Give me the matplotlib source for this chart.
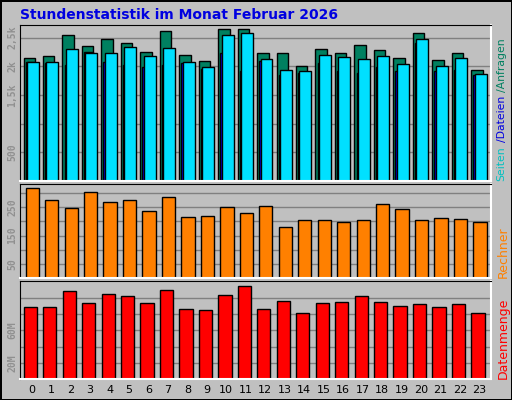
import matplotlib
matplotlib.use("Agg")
import matplotlib.pyplot as plt
import numpy as np

hours = list(range(24))
hits = [2145, 2180, 2552, 2360, 2483, 2413, 2250, 2622, 2203, 2099, 2657, 2657,
        2238, 2238, 2012, 2308, 2238, 2378, 2291, 2151, 2587, 2116, 2238, 1942]
files = [2081, 2081, 2308, 2238, 2238, 2343, 2186, 2326, 2081, 1994, 2552, 2587,
         2134, 1942, 1924, 2203, 2169, 2134, 2186, 2047, 2483, 2012, 2151, 1872]
pages = [2081, 2064, 2029, 2256, 2081, 2029, 1994, 2029, 2064, 1959, 2238, 1924,
         2099, 1855, 1890, 2064, 1924, 1890, 1994, 1924, 2413, 1924, 1942, 1855]
sites = [317, 274, 249, 302, 270, 277, 235, 285, 217, 220, 252, 231,
         256, 181, 206, 206, 199, 206, 263, 245, 206, 213, 210, 199]
volume_mb = [88.5, 88.5, 109, 93.6, 105, 102.6, 93.6, 110, 87, 84.7, 104, 115,
             87, 96, 82, 93.6, 95, 102.6, 95, 90, 92.3, 88.5, 92.3, 81]

BG = "#C0C0C0"
W, H = 512, 400

fig = plt.figure(figsize=(W / 100, H / 100), dpi=100)
fig.patch.set_facecolor(BG)
fig.patch.set_edgecolor("black")
fig.patch.set_linewidth(2)

fig.text(20 / W, 1 - 15 / H, "Stundenstatistik im Monat Februar 2026", color="#0000E0",
         fontsize=10, fontweight="bold", va="center", ha="left")


def make_ax(top, bottom):
    ax = fig.add_axes([20 / W, 1 - bottom / H, (491 - 20) / W, (bottom - top) / H])
    ax.set_facecolor(BG)
    ax.set_xlim(-0.6, 23.6)
    for s in ("left", "top"):
        ax.spines[s].set_color("black")
    for s in ("right", "bottom"):
        ax.spines[s].set_color("white")
        ax.spines[s].set_linewidth(1.5)
    ax.tick_params(axis="y", length=0, labelsize=7, labelcolor="#909090", pad=2)
    ax.tick_params(axis="x", length=0)
    ax.set_axisbelow(True)
    ax.grid(True, axis="y", color="#808080", linewidth=1)
    return ax


x = np.array(hours)

ax1 = make_ax(25, 181)
ax1.set_ylim(0, 2720)
ax1.set_yticks([500, 1000, 1500, 2000, 2500])
ax1.set_yticklabels(["500", "", "1,5k", "2k", "2,5k"], rotation=90, va="center",
                    family="DejaVu Sans Mono", fontweight="bold")
ax1.bar(x - 0.42, hits, width=0.59, align="edge", color="#008060", edgecolor="black", linewidth=1)
ax1.bar(x - 0.31, pages, width=0.45, align="edge", color="#0000E0", edgecolor="black", linewidth=1)
ax1.bar(x - 0.24, files, width=0.61, align="edge", color="#00E0FF", edgecolor="black", linewidth=1)
ax1.set_xticks([])
ax1.text(1.012, 0.0, "Seiten", color="#00C0C0", transform=ax1.transAxes, rotation=90,
         fontsize=7.8, ha="left", va="bottom")
ax1.text(1.012, 0.25, "/Dateien", color="#0000E0", transform=ax1.transAxes, rotation=90,
         fontsize=7.8, ha="left", va="bottom")
ax1.text(1.012, 0.57, "/Anfragen", color="#008060", transform=ax1.transAxes, rotation=90,
         fontsize=7.8, ha="left", va="bottom")

ax2 = make_ax(184, 278)
ax2.set_ylim(0, 332)
ax2.set_yticks([50, 100, 150, 200, 250, 300])
ax2.set_yticklabels(["50", "", "150", "", "250", ""], rotation=90, va="center",
                    family="DejaVu Sans Mono", fontweight="bold")
ax2.bar(x + 0.03, sites, width=0.68, color="#FF8000", edgecolor="black", linewidth=1)
ax2.set_xticks([])
ax2.text(1.012, 0.0, "Rechner", color="#FF8000", transform=ax2.transAxes, rotation=90,
         fontsize=9, ha="left", va="bottom")

ax3 = make_ax(281, 379)
ax3.set_ylim(0, 121)
ax3.set_yticks([20, 40, 60, 80, 100])
ax3.set_yticklabels(["20M", "", "60M", "", ""], rotation=90, va="center",
                    family="DejaVu Sans Mono", fontweight="bold")
ax3.bar(x - 0.07, volume_mb, width=0.68, color="#FF0000", edgecolor="black", linewidth=1)
ax3.set_xticks(x)
ax3.set_xticklabels([str(h) for h in hours], fontsize=8)
ax3.tick_params(axis="x", pad=4)
ax3.text(1.012, 0.0, "Datenmenge", color="#FF0000", transform=ax3.transAxes, rotation=90,
         fontsize=9, ha="left", va="bottom")

fig.savefig("out.png", dpi=100, facecolor=BG, edgecolor="black")
